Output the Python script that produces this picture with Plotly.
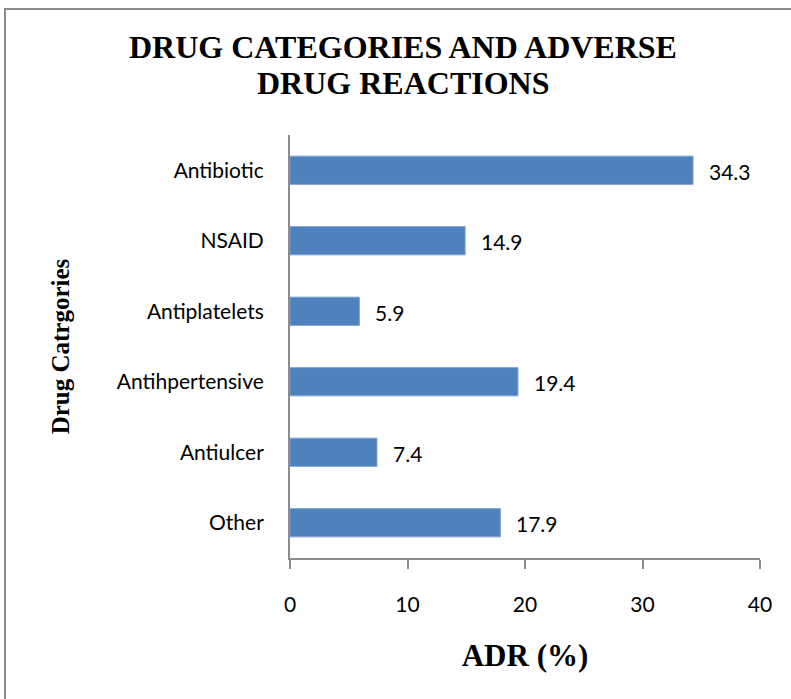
import plotly.graph_objects as go

categories = ["Antibiotic", "NSAID", "Antiplatelets", "Antihpertensive", "Antiulcer", "Other"]
values = [34.3, 14.9, 5.9, 19.4, 7.4, 17.9]
x_ticks = [0, 10, 20, 30, 40]
title_lines = ["DRUG CATEGORIES AND ADVERSE", "DRUG REACTIONS"]

W, H = 791, 699
L, R, T, B = 290, 31, 135, 141
pw, ph = W - L - R, H - T - B

sans = "Lato, Liberation Sans, Arial"
serif = "Liberation Serif, Times New Roman, serif"

fig = go.Figure()
fig.add_trace(go.Bar(
    y=categories, x=values, orientation="h",
    marker=dict(color="#4F81BD", line=dict(color="#7A9FCC", width=1)),
    width=0.4, hoverinfo="skip",
))

for c, v in zip(categories, values):
    fig.add_annotation(x=v, y=c, text=f"{v:.1f}", showarrow=False,
                       xanchor="left", xshift=14, yshift=-1,
                       font=dict(family=sans, size=21, color="#000"))

# title lines (pixel positions converted to paper coords)
for line, ypix in zip(title_lines, [47, 83]):
    fig.add_annotation(xref="paper", yref="paper",
                       x=(403 - L) / pw, y=(H - B - ypix) / ph,
                       xanchor="center", yanchor="middle", showarrow=False,
                       text=f"<b>{line}</b>",
                       font=dict(family=serif, size=32, color="#000"))

fig.update_layout(
    width=W, height=H,
    margin=dict(l=L, r=R, t=T, b=B),
    paper_bgcolor="white", plot_bgcolor="white",
    showlegend=False,
    xaxis=dict(range=[0, 40], tickvals=x_ticks, showgrid=False, zeroline=False,
               showline=True, linecolor="#8c8c8c", linewidth=2,
               ticks="outside", ticklen=9, tickwidth=2, tickcolor="#8c8c8c",
               ticklabelstandoff=18,
               tickfont=dict(family=sans, size=21, color="#000"),
               title=dict(text="<b>ADR (%)</b>", standoff=29,
                          font=dict(family=serif, size=31, color="#000"))),
    yaxis=dict(categoryorder="array", categoryarray=categories[::-1],
               showgrid=False, zeroline=False,
               showline=True, linecolor="#8c8c8c", linewidth=2,
               ticks="", ticklabelstandoff=20,
               tickfont=dict(family=sans, size=21, color="#000"),
               title=dict(text="<b>Drug Catrgories</b>", standoff=40,
                          font=dict(family=serif, size=25, color="#000"))),
)

# outer frame
fig.add_shape(type="rect", xref="paper", yref="paper",
              x0=(5 - L) / pw, x1=(795 - L) / pw,
              y0=(H - B - 705) / ph, y1=(H - B - 9) / ph,
              line=dict(color="#8c8c8c", width=2), fillcolor="rgba(0,0,0,0)", layer="below")

fig.write_html("out.html", config={"displayModeBar": False},
               post_script="document.body.style.margin='0';document.body.style.overflow='hidden';")
